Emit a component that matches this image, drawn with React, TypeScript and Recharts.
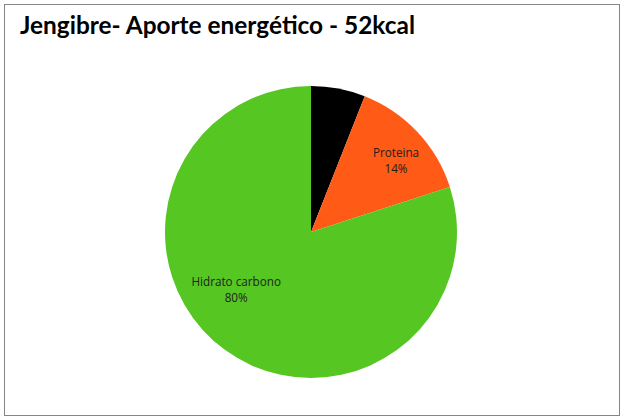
import React from "react";
import { PieChart, Pie, Cell } from "recharts";

const categories = ["Grasa", "Proteina", "Hidrato carbono"];
const values = [6, 14, 80];
const colors = ["#000000", "#FF5A16", "#56C623"];
const showLabel = [false, true, true];

const data = categories.map((name, i) => ({ name, value: values[i] }));

// label placement: angle (deg, recharts convention) and radius fraction
const labelPlacement: Record<string, { angle: number | null; r: number }> = {
  Proteina: { angle: 40, r: 0.76 },
  "Hidrato carbono": { angle: -142, r: 0.65 },
};

const RAD = Math.PI / 180;

const renderLabel = (props: any) => {
  const { cx, cy, midAngle, outerRadius, index, name, percent } = props;
  if (!showLabel[index]) return null;
  const pl = labelPlacement[name];
  const ang = pl && pl.angle !== null ? pl.angle : midAngle;
  const r = outerRadius * (pl ? pl.r : 0.7);
  const x = cx + r * Math.cos(-ang * RAD);
  const y = cy + r * Math.sin(-ang * RAD);
  return (
    <text
      x={x}
      y={y}
      textAnchor="middle"
      fill="#1e1e1e"
      fontSize={11.7}
      fontFamily="'Open Sans', sans-serif"
    >
      <tspan x={x} dy={-4}>{name}</tspan>
      <tspan x={x} dy={16}>{`${Math.round(percent * 100)}%`}</tspan>
    </text>
  );
};

export default function App() {
  return (
    <div
      style={{
        position: "absolute",
        left: 0,
        top: 0,
        width: 625,
        height: 420,
        background: "#fff",
      }}
    >
      <div
        style={{
          position: "absolute",
          left: 4,
          top: 4,
          width: 614,
          height: 410,
          border: "1px solid #868686",
          boxSizing: "content-box",
        }}
      />
      <div
        style={{
          position: "absolute",
          left: 20,
          top: 10,
          fontFamily: "Lato, sans-serif",
          fontWeight: 700,
          fontSize: 24.4,
          lineHeight: "30px",
          color: "#000",
          whiteSpace: "nowrap",
        }}
      >
        Jengibre- Aporte energético - 52kcal
      </div>
      <div style={{ position: "absolute", left: 0, top: 0 }}>
        <PieChart
          width={625}
          height={420}
          margin={{ top: 0, right: 0, bottom: 0, left: 0 }}
        >
          <Pie
            data={data}
            dataKey="value"
            nameKey="name"
            cx={311}
            cy={232}
            outerRadius={146}
            startAngle={90}
            endAngle={-270}
            stroke="none"
            label={renderLabel}
            labelLine={false}
            isAnimationActive={false}
          >
            {data.map((d, i) => (
              <Cell key={d.name} fill={colors[i]} />
            ))}
          </Pie>
        </PieChart>
      </div>
    </div>
  );
}
